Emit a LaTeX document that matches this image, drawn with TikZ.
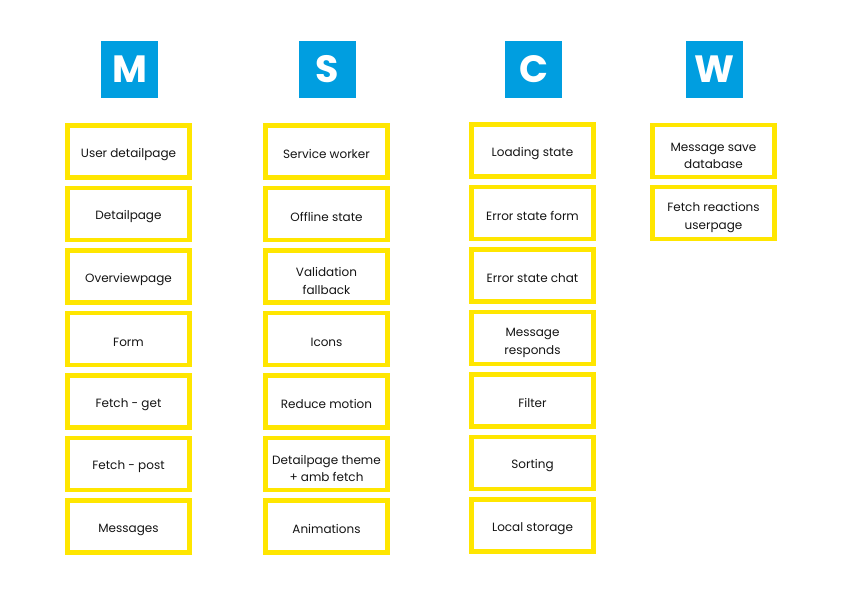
\documentclass[tikz,border=0pt]{standalone}
\usepackage{fontspec}
\setmainfont{Poppins}
\definecolor{headblue}{RGB}{0,158,224}
\definecolor{cardyellow}{RGB}{255,230,0}
\definecolor{cardtext}{RGB}{20,20,20}
\begin{document}
\begin{tikzpicture}[x=1pt,y=-1pt,
    head/.style={fill=headblue, minimum size=57pt, inner sep=0pt, text=white,
        font=\fontsize{38}{38}\selectfont\bfseries},
    card/.style={draw=cardyellow, line width=4.7pt, minimum width=122pt,
        minimum height=52pt, inner sep=0pt, align=center, text=cardtext,
        font=\fontsize{12}{17.5}\selectfont,
        execute at begin node={\rule{0pt}{15pt}}},
    twoline/.style={card, execute at begin node={\rule{0pt}{36pt}}}]

\useasboundingbox (0,0) rectangle (842,595);

% column heads
\foreach \col/\x/\letter in {m/129.5/M, s/327.5/S, c/533.5/C, w/714.5/W}
{
    \node[head] (\col0) at (\x,69.5) {\letter};
}

% M
\foreach \txt [count=\i] in {User detailpage, Detailpage, Overviewpage, Form,
    Fetch - get, Fetch - post, Messages}
{
    \node[card] (m\i) at (128.5,{89+62.5*\i}) {\txt};
}

% S
\foreach \kind/\txt [count=\i] in {card/Service worker, card/Offline state,
    twoline/Validation\\fallback, card/Icons, card/Reduce motion,
    twoline/Detailpage theme\\+ amb fetch, card/Animations}
{
    \node[\kind] (s\i) at (326.5,{89+62.5*\i}) {\txt};
}

% C
\foreach \kind/\txt [count=\i] in {card/Loading state, card/Error state form,
    card/Error state chat, twoline/Message\\responds, card/Filter,
    card/Sorting, card/Local storage}
{
    \node[\kind] (c\i) at (532.5,{88+62.5*\i}) {\txt};
}

% W
\foreach \txt [count=\i] in {Message save\\database, Fetch reactions\\userpage}
{
    \node[twoline] (w\i) at (713.5,{89+62*\i}) {\txt};
}

\end{tikzpicture}
\end{document}
